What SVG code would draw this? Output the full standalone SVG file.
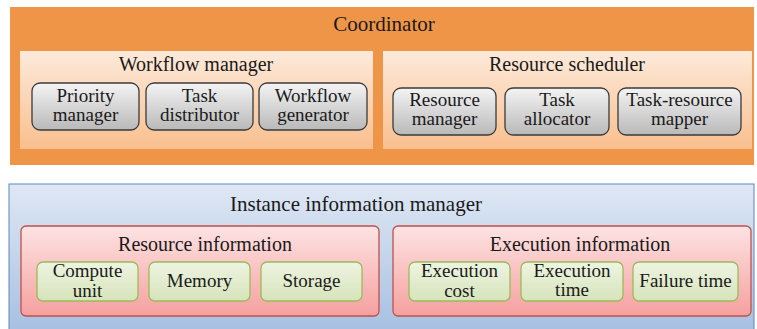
<svg xmlns="http://www.w3.org/2000/svg" width="757" height="329" viewBox="0 0 757 329">
<defs>
<linearGradient id="peach" x1="0" y1="0" x2="0" y2="1"><stop offset="0" stop-color="#fdeadb"/><stop offset="1" stop-color="#f9bf8e"/></linearGradient>
<linearGradient id="gray" x1="0" y1="0" x2="0" y2="1"><stop offset="0" stop-color="#f4f4f4"/><stop offset="1" stop-color="#b9b9b9"/></linearGradient>
<linearGradient id="blue" x1="0" y1="0" x2="0" y2="1"><stop offset="0" stop-color="#dfe8f4"/><stop offset="1" stop-color="#a6bfe1"/></linearGradient>
<linearGradient id="pink" x1="0" y1="0" x2="0" y2="1"><stop offset="0" stop-color="#fde3e3"/><stop offset="1" stop-color="#f5a09e"/></linearGradient>
<linearGradient id="green" x1="0" y1="0" x2="0" y2="1"><stop offset="0" stop-color="#eef4e2"/><stop offset="1" stop-color="#d6e4ba"/></linearGradient>
</defs>
<style>
text{font-family:"Liberation Serif",serif}
.t1{font-size:21px}
.t2{font-size:20px}
.n{font-size:19px}
.gn{fill:url(#gray);stroke:#3a3a3a;stroke-width:1.3}
.grn{fill:url(#green);stroke:#9bbb59;stroke-width:1.3}
.pk{fill:url(#pink);stroke:#c0504d;stroke-width:1.3}
</style>
<g fill="#1a1a1a" text-anchor="middle">
<g id="coordinator">
<rect x="10" y="7" width="744" height="158" fill="#ef9548"/>
<text class="t1" x="384" y="31">Coordinator</text>
</g>
<g id="workflow-manager">
<rect x="20" y="51" width="353" height="98" fill="url(#peach)"/>
<text class="t2" x="196" y="71">Workflow manager</text>
</g>
<g id="priority-manager">
<rect class="gn" x="32" y="83" width="107" height="47" rx="8"/>
<text class="n" x="85.5" y="102">Priority</text><text class="n" x="85.5" y="121">manager</text>
</g>
<g id="task-distributor">
<rect class="gn" x="146" y="83" width="107" height="47" rx="8"/>
<text class="n" x="199.5" y="102">Task</text><text class="n" x="199.5" y="121">distributor</text>
</g>
<g id="workflow-generator">
<rect class="gn" x="259" y="83" width="108" height="47" rx="8"/>
<text class="n" x="313" y="102">Workflow</text><text class="n" x="313" y="121">generator</text>
</g>
<g id="resource-scheduler">
<rect x="383" y="51" width="369" height="98" fill="url(#peach)"/>
<text class="t2" x="567" y="71">Resource scheduler</text>
</g>
<g id="resource-manager">
<rect class="gn" x="393" y="88" width="103" height="47" rx="8"/>
<text class="n" x="444.5" y="106">Resource</text><text class="n" x="444.5" y="125">manager</text>
</g>
<g id="task-allocator">
<rect class="gn" x="505" y="88" width="104" height="47" rx="8"/>
<text class="n" x="557" y="106">Task</text><text class="n" x="557" y="125">allocator</text>
</g>
<g id="task-resource-mapper">
<rect class="gn" x="618" y="88" width="123" height="47" rx="8"/>
<text class="n" x="679.5" y="106">Task-resource</text><text class="n" x="679.5" y="125">mapper</text>
</g>
<g id="instance-information-manager">
<rect x="9" y="184" width="745" height="150" fill="url(#blue)" stroke="#5b85c0" stroke-width="1"/>
<text class="t1" x="356" y="211">Instance information manager</text>
</g>
<g id="resource-information">
<rect class="pk" x="21" y="226" width="358" height="90" rx="5"/>
<text class="t2" x="205" y="251">Resource information</text>
</g>
<g id="compute-unit">
<rect class="grn" x="37" y="262" width="101" height="39" rx="6"/>
<text class="n" x="87.5" y="277">Compute</text><text class="n" x="87.5" y="297">unit</text>
</g>
<g id="memory">
<rect class="grn" x="149" y="262" width="101" height="39" rx="6"/>
<text class="n" x="199.5" y="287">Memory</text>
</g>
<g id="storage">
<rect class="grn" x="261" y="262" width="101" height="39" rx="6"/>
<text class="n" x="311.5" y="287">Storage</text>
</g>
<g id="execution-information">
<rect class="pk" x="393" y="226" width="358" height="90" rx="5"/>
<text class="t2" x="580" y="251">Execution information</text>
</g>
<g id="execution-cost">
<rect class="grn" x="409" y="262" width="101" height="39" rx="6"/>
<text class="n" x="459.5" y="277">Execution</text><text class="n" x="459.5" y="297">cost</text>
</g>
<g id="execution-time">
<rect class="grn" x="521" y="262" width="102" height="39" rx="6"/>
<text class="n" x="572" y="277">Execution</text><text class="n" x="572" y="296">time</text>
</g>
<g id="failure-time">
<rect class="grn" x="633" y="262" width="105" height="39" rx="6"/>
<text class="n" x="685.5" y="287">Failure time</text>
</g>
</g>
<g id="connectors"></g>
</svg>
